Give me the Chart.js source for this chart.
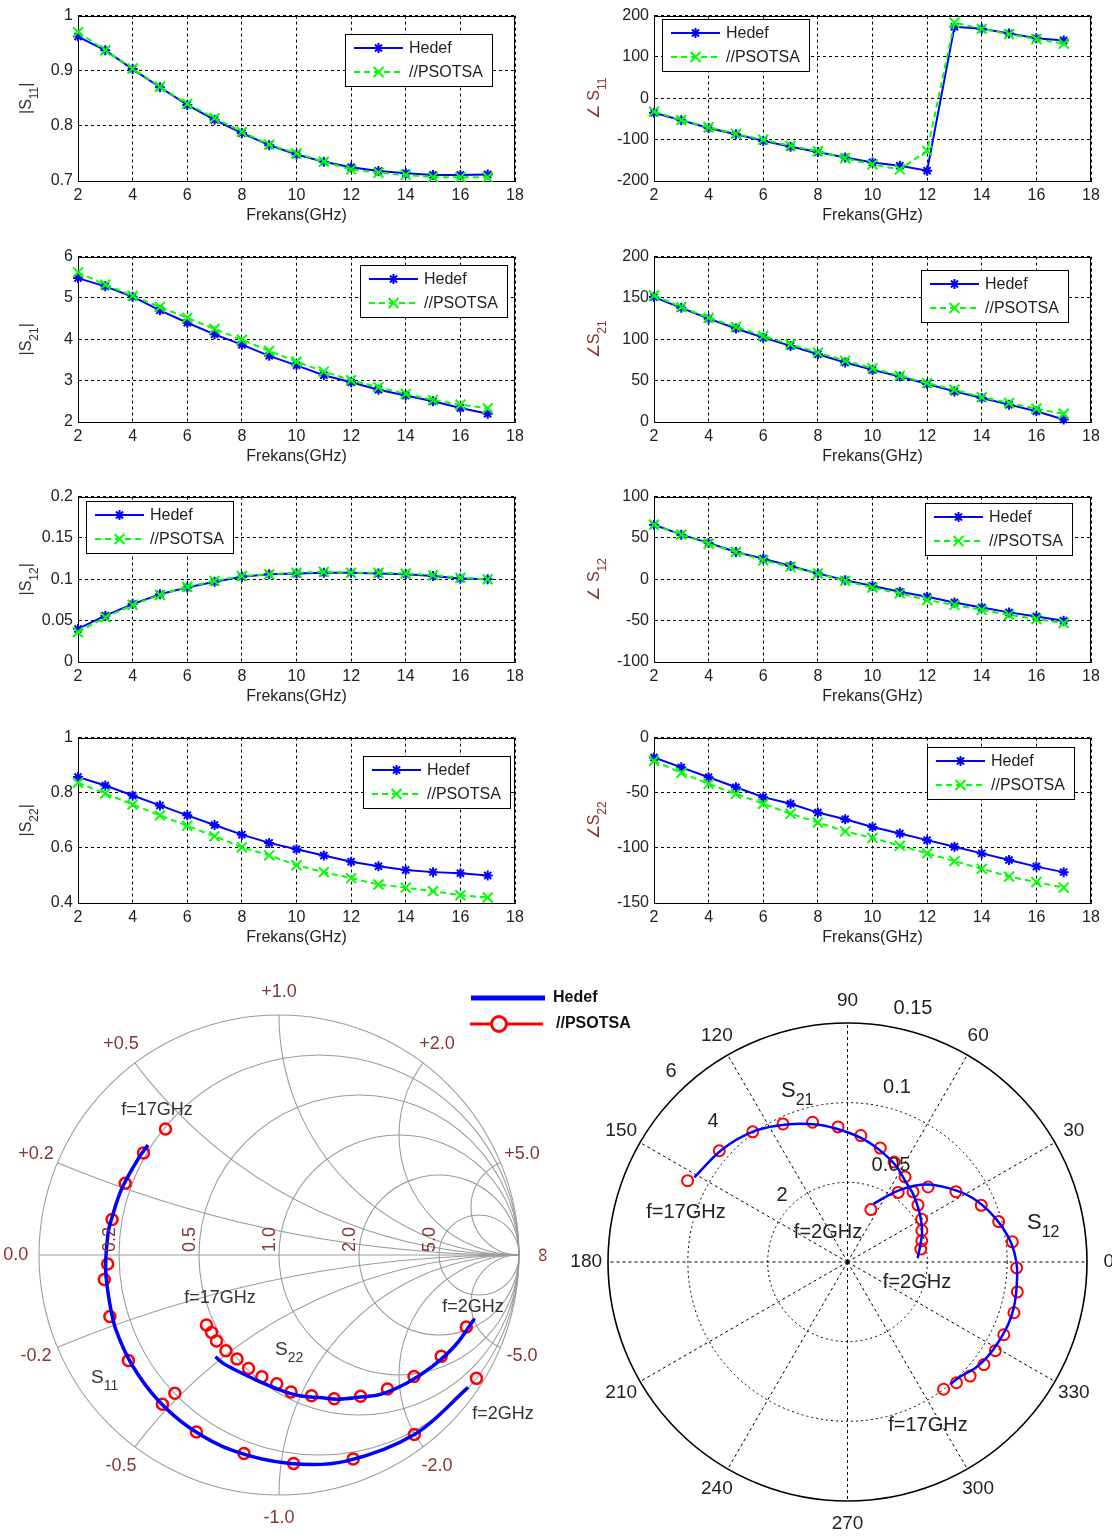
<!DOCTYPE html>
<html>
<head>
<meta charset="utf-8">
<title>S-parametre karşılaştırması</title>
<script src="https://cdn.jsdelivr.net/npm/chart.js@4.4.1/dist/chart.umd.min.js"></script>
<style>
  html, body { margin: 0; padding: 0; background: #fff; }
  #page { position: relative; width: 1112px; height: 1539px; overflow: hidden; background: #fff; }
  #page canvas { position: absolute; }
</style>
</head>
<body>
<div id="page"></div>
<script>
// ---- Frequency sweep and axis ticks ----
const freqGHz   = [2, 3, 4, 5, 6, 7, 8, 9, 10, 11, 12, 13, 14, 15, 16, 17];
const freqTicks = [2, 4, 6, 8, 10, 12, 14, 16, 18];
const seriesNames = ['Hedef', '//PSOTSA'];

// ---- S11 ----
const s11MagHedef = [0.962, 0.937, 0.903, 0.870, 0.838, 0.811, 0.787, 0.765, 0.748, 0.735, 0.725, 0.718, 0.714, 0.711, 0.711, 0.712];
const s11MagPso   = [0.970, 0.937, 0.904, 0.871, 0.840, 0.814, 0.789, 0.766, 0.750, 0.735, 0.721, 0.715, 0.711, 0.707, 0.707, 0.707];
const s11AngHedef = [-35, -53, -72, -87, -103, -117, -130, -143, -155, -163, -175, 173, 168, 157, 145, 140];
const s11AngPso   = [-32, -53, -70, -86, -100, -115, -128, -145, -160, -172, -127, 183, 168, 155, 143, 132];

// ---- S21 ----
const s21MagHedef = [5.48, 5.28, 5.03, 4.70, 4.40, 4.12, 3.87, 3.60, 3.37, 3.13, 2.96, 2.78, 2.64, 2.50, 2.34, 2.20];
const s21MagPso   = [5.62, 5.32, 5.05, 4.78, 4.52, 4.25, 3.99, 3.72, 3.46, 3.22, 3.01, 2.84, 2.68, 2.53, 2.42, 2.33];
const s21AngHedef = [151, 138, 125, 113, 102, 92, 82, 72, 63, 55, 46, 37, 29, 21, 13, 3];
const s21AngPso   = [153, 139, 126, 115, 104, 94, 84, 74, 65, 56, 47, 39, 30, 23, 16, 10];

// ---- S12 ----
const s12MagHedef = [0.040, 0.056, 0.070, 0.082, 0.090, 0.097, 0.103, 0.106, 0.107, 0.108, 0.108, 0.107, 0.106, 0.104, 0.101, 0.100];
const s12MagPso   = [0.036, 0.054, 0.069, 0.081, 0.091, 0.098, 0.104, 0.106, 0.108, 0.109, 0.108, 0.108, 0.107, 0.105, 0.102, 0.100];
const s12AngHedef = [66, 54, 44, 33, 25, 16, 7, -1, -8, -15, -21, -28, -34, -40, -45, -50];
const s12AngPso   = [66, 54, 43, 33, 23, 15, 7, -2, -10, -17, -25, -31, -37, -43, -48, -53];

// ---- S22 ----
const s22MagHedef = [0.857, 0.826, 0.790, 0.754, 0.718, 0.683, 0.648, 0.618, 0.595, 0.572, 0.550, 0.533, 0.520, 0.512, 0.508, 0.500];
const s22MagPso   = [0.836, 0.797, 0.757, 0.718, 0.680, 0.642, 0.602, 0.573, 0.537, 0.512, 0.490, 0.467, 0.456, 0.443, 0.428, 0.420];
const s22AngHedef = [-18, -27, -36, -45, -54, -60, -68, -74, -81, -87, -93, -99, -105, -111, -117, -122];
const s22AngPso   = [-21, -32, -42, -51, -60, -69, -77, -85, -91, -98, -105, -112, -119, -126, -131, -136];

// ---- Y-axis tick sets ----
const s11MagTicks = [0.7, 0.8, 0.9, 1];
const s11AngTicks = [-200, -100, 0, 100, 200];
const s21MagTicks = [2, 3, 4, 5, 6];
const s21AngTicks = [0, 50, 100, 150, 200];
const s12MagTicks = [0, 0.05, 0.1, 0.15, 0.2];
const s12AngTicks = [-100, -50, 0, 50, 100];
const s22MagTicks = [0.4, 0.6, 0.8, 1];
const s22AngTicks = [-150, -100, -50, 0];

// ---- Smith chart grid ----
const smithResistance = [0.2, 0.5, 1, 2, 5];
const smithResistanceLabels = ['0.2', '0.5', '1.0', '2.0', '5.0'];
const smithReactance = [0.2, 0.5, 1, 2, 5];
const smithReactanceLabels = ['0.2', '0.5', '1.0', '2.0', '5.0'];

// ---- Polar chart grid ----
const polarAngleTicks = [0, 30, 60, 90, 120, 150, 180, 210, 240, 270, 300, 330];
const polarRings = [1 / 3, 2 / 3, 1];
const s21RingLabels = ['2', '4', '6'];
const s12RingLabels = ['0.05', '0.1', '0.15'];
const s21FullScale = 7.5;
const s12FullScale = 0.15;

// =====================================================================
const FONT = "'Liberation Sans', Arial, Helvetica, sans-serif";
const BLUE = '#0000ff', GREEN = '#00ff00', RED = '#ff0000';
const TEXT = '#222222', BROWN = '#8a3232';
const page = document.getElementById('page');

function addCanvas(left, top, w, h) {
  const c = document.createElement('canvas');
  c.width = w; c.height = h;
  c.style.left = left + 'px'; c.style.top = top + 'px';
  c.style.width = w + 'px'; c.style.height = h + 'px';
  page.appendChild(c);
  return c;
}

// text with subscripts: parts = [[text, isSubscript], ...], y is the baseline
function drawSub(ctx, parts, x, y, size, align, color, subSize, subDrop) {
  subSize = subSize || Math.round(size * 0.75);
  subDrop = subDrop === undefined ? size * 0.42 : subDrop;
  let total = 0;
  const widths = parts.map(([t, sub]) => {
    ctx.font = `${sub ? subSize : size}px ${FONT}`;
    const w = ctx.measureText(t).width; total += w; return w;
  });
  let cx = align === 'center' ? x - total / 2 : (align === 'right' ? x - total : x);
  ctx.fillStyle = color; ctx.textAlign = 'left'; ctx.textBaseline = 'alphabetic';
  parts.forEach(([t, sub], i) => {
    ctx.font = `${sub ? subSize : size}px ${FONT}`;
    ctx.fillText(t, cx, y + (sub ? subDrop : 0));
    cx += widths[i];
  });
}

function drawMarker(ctx, style, x, y, r) {
  ctx.beginPath();
  if (style === 'circle') {
    ctx.arc(x, y, r, 0, Math.PI * 2);
  } else {
    const d = r * Math.SQRT1_2;
    ctx.moveTo(x - d, y - d); ctx.lineTo(x + d, y + d);
    ctx.moveTo(x + d, y - d); ctx.lineTo(x - d, y + d);
    if (style === 'star') { ctx.moveTo(x, y - r); ctx.lineTo(x, y + r); }
  }
  ctx.stroke();
}

function text(ctx, t, x, y, size, color, opts) {
  opts = opts || {};
  ctx.font = `${opts.bold ? 'bold ' : ''}${size}px ${FONT}`;
  ctx.fillStyle = color;
  ctx.textAlign = opts.align || 'center';
  ctx.textBaseline = 'middle';
  ctx.fillText(t, x, y);
}

// =====================================================================
// Eight frequency-response panels
const ROW_TOP = [11, 252, 492, 733];
const PLOT_H = 170;
const CANVAS_H = 240;
const COLS = [
  { x: 0,   w: 540, plotL: 78,  plotR: 515, titleX: 31 },
  { x: 560, w: 552, plotL: 654, plotR: 1091, titleX: 599 }
];

const panels = [
  { col: 0, row: 0, title: [['|S', 0], ['11', 1], ['|', 0]], color: '#333', hedef: s11MagHedef, pso: s11MagPso, ticks: s11MagTicks, legend: [345, 34] },
  { col: 1, row: 0, title: [['\u2220 S', 0], ['11', 1]], color: BROWN, hedef: s11AngHedef, pso: s11AngPso, ticks: s11AngTicks, legend: [662, 19] },
  { col: 0, row: 1, title: [['|S', 0], ['21', 1], ['|', 0]], color: '#333', hedef: s21MagHedef, pso: s21MagPso, ticks: s21MagTicks, legend: [360, 265] },
  { col: 1, row: 1, title: [['\u2220S', 0], ['21', 1]], color: BROWN, hedef: s21AngHedef, pso: s21AngPso, ticks: s21AngTicks, legend: [921, 270] },
  { col: 0, row: 2, title: [['|S', 0], ['12', 1], ['|', 0]], color: '#333', hedef: s12MagHedef, pso: s12MagPso, ticks: s12MagTicks, legend: [86, 501] },
  { col: 1, row: 2, title: [['\u2220 S', 0], ['12', 1]], color: BROWN, hedef: s12AngHedef, pso: s12AngPso, ticks: s12AngTicks, legend: [925, 503] },
  { col: 0, row: 3, title: [['|S', 0], ['22', 1], ['|', 0]], color: '#333', hedef: s22MagHedef, pso: s22MagPso, ticks: s22MagTicks, legend: [363, 756] },
  { col: 1, row: 3, title: [['\u2220S', 0], ['22', 1]], color: BROWN, hedef: s22AngHedef, pso: s22AngPso, ticks: s22AngTicks, legend: [927, 747] }
];

const LEGEND_ROWS = [
  { name: seriesNames[0], color: BLUE, dash: [], marker: 'star', r: 5 },
  { name: seriesNames[1], color: GREEN, dash: [6, 4], marker: 'crossRot', r: 7 }
];

const framePlugin = {
  id: 'frame',
  beforeDatasetsDraw(chart) {
    const a = chart.chartArea, c = chart.ctx;
    c.save();
    c.setLineDash([]);
    c.strokeStyle = '#000'; c.lineWidth = 1;
    c.strokeRect(Math.round(a.left) + 0.5, Math.round(a.top) + 0.5, Math.round(a.width) - 1, Math.round(a.height));
    c.restore();
  }
};

function panelDecor(p, col, canvasTop) {
  return {
    id: 'decor',
    afterDraw(chart) {
      const c = chart.ctx, a = chart.chartArea;
      c.save();
      // x-axis title
      text(c, 'Frekans(GHz)', (a.left + a.right) / 2, a.bottom + 35, 16, TEXT);
      // rotated y-axis title
      c.save();
      c.translate(col.titleX - col.x, (a.top + a.bottom) / 2);
      c.rotate(-Math.PI / 2);
      drawSub(c, p.title, 0, 0, 16, 'center', p.color, 12, 7);
      c.restore();
      // legend box
      const bx = p.legend[0] - col.x, by = p.legend[1] - canvasTop;
      const bw = 147, bh = 52;
      c.fillStyle = '#fff';
      c.fillRect(bx, by, bw, bh);
      c.strokeStyle = '#000'; c.lineWidth = 1; c.setLineDash([]);
      c.strokeRect(bx + 0.5, by + 0.5, bw, bh);
      LEGEND_ROWS.forEach((row, i) => {
        const y = by + 14 + i * 24;
        c.strokeStyle = row.color; c.lineWidth = 2;
        c.setLineDash(row.dash);
        c.beginPath(); c.moveTo(bx + 9, y); c.lineTo(bx + 58, y); c.stroke();
        c.setLineDash([]);
        drawMarker(c, row.marker, bx + 33.5, y, row.r);
        text(c, row.name, bx + 64, y + 1, 16, TEXT, { align: 'left' });
      });
      c.restore();
    }
  };
}

const gridStyle = { color: '#000', lineWidth: 1, drawTicks: false };
const borderStyle = { display: true, color: '#000', dash: [3, 3] };
const tickFont = { family: FONT, size: 16 };

panels.forEach(p => {
  const col = COLS[p.col];
  const canvasTop = ROW_TOP[p.row] - 10;
  const cv = addCanvas(col.x, canvasTop, col.w, CANVAS_H);
  const ticks = p.ticks;
  new Chart(cv, {
    type: 'line',
    data: {
      datasets: [
        {
          label: seriesNames[0],
          data: freqGHz.map((f, i) => ({ x: f, y: p.hedef[i] })),
          borderColor: BLUE, backgroundColor: BLUE, borderWidth: 2,
          pointStyle: 'star', pointRadius: 5, pointBorderWidth: 2, pointBorderColor: BLUE,
          tension: 0, clip: false, order: 1
        },
        {
          label: seriesNames[1],
          data: freqGHz.map((f, i) => ({ x: f, y: p.pso[i] })),
          borderColor: GREEN, backgroundColor: GREEN, borderWidth: 2, borderDash: [6, 4],
          pointStyle: 'crossRot', pointRadius: 7, pointBorderWidth: 2, pointBorderColor: GREEN,
          tension: 0, clip: false, order: 0
        }
      ]
    },
    options: {
      responsive: false, animation: false, devicePixelRatio: 1,
      layout: { padding: { left: 0, top: 10, right: col.w - (col.plotR - col.x), bottom: 0 } },
      plugins: { legend: { display: false }, tooltip: { enabled: false } },
      scales: {
        x: {
          type: 'linear', min: freqTicks[0], max: freqTicks[freqTicks.length - 1],
          afterBuildTicks: s => { s.ticks = freqTicks.map(v => ({ value: v })); },
          afterFit: s => { s.height = CANVAS_H - 10 - PLOT_H; },
          grid: gridStyle, border: borderStyle,
          ticks: { color: TEXT, font: tickFont, padding: 5, maxRotation: 0, autoSkip: false, callback: v => String(v) }
        },
        y: {
          type: 'linear', min: ticks[0], max: ticks[ticks.length - 1],
          afterBuildTicks: s => { s.ticks = ticks.map(v => ({ value: v })); },
          afterFit: s => { s.width = col.plotL - col.x; },
          grid: gridStyle, border: borderStyle,
          ticks: { color: TEXT, font: tickFont, padding: 5, autoSkip: false, callback: v => String(v) }
        }
      }
    },
    plugins: [framePlugin, panelDecor(p, col, canvasTop)]
  });
});

// =====================================================================
// Smith chart: reflection coefficients S11 and S22
function toGamma(mag, angDeg) {
  return mag.map((m, i) => {
    const t = angDeg[i] * Math.PI / 180;
    return { x: m * Math.cos(t), y: m * Math.sin(t) };
  });
}

const SMITH_TOP = 975;
const smithCanvas = addCanvas(0, SMITH_TOP, 640, 564);

const smithGrid = {
  id: 'smithGrid',
  beforeDatasetsDraw(chart) {
    const c = chart.ctx, sx = chart.scales.x, sy = chart.scales.y;
    const cx = sx.getPixelForValue(0), cy = sy.getPixelForValue(0);
    const R = sx.getPixelForValue(1) - cx;
    c.save();
    c.strokeStyle = '#9c9c9c'; c.lineWidth = 1.1;
    c.beginPath(); c.arc(cx, cy, R, 0, Math.PI * 2); c.stroke();
    c.beginPath(); c.moveTo(cx - R, cy); c.lineTo(cx + R, cy); c.stroke();
    smithResistance.forEach(r => {
      c.beginPath();
      c.arc(cx + R * r / (1 + r), cy, R / (1 + r), 0, Math.PI * 2);
      c.stroke();
    });
    c.beginPath(); c.arc(cx, cy, R, 0, Math.PI * 2); c.clip();
    smithReactance.forEach(x => {
      [1, -1].forEach(sgn => {
        c.beginPath();
        c.arc(cx + R, cy - sgn * R / x, R / x, 0, Math.PI * 2);
        c.stroke();
      });
    });
    c.restore();
  },
  afterDraw(chart) {
    const c = chart.ctx, sx = chart.scales.x, sy = chart.scales.y;
    const cx = sx.getPixelForValue(0), cy = sy.getPixelForValue(0);
    const R = sx.getPixelForValue(1) - cx;
    const LR = 1.097 * R;
    c.save();
    // reactance labels around the rim
    smithReactance.forEach((x, i) => {
      const den = x * x + 1;
      const gx = (x * x - 1) / den, gy = 2 * x / den;
      text(c, '+' + smithReactanceLabels[i], cx + gx * LR, cy - gy * LR, 18, BROWN);
      text(c, '-' + smithReactanceLabels[i], cx + gx * LR, cy + gy * LR, 18, BROWN);
    });
    text(c, '0.0', cx - LR, cy, 18, BROWN);
    c.save();
    c.translate(cx + LR, cy); c.rotate(Math.PI / 2);
    text(c, '\u221E', 0, 0, 20, BROWN);
    c.restore();
    // resistance labels along the real axis
    smithResistance.forEach((r, i) => {
      const edge = cx + R * (r - 1) / (r + 1);
      c.save();
      c.translate(edge - 4, cy - 3); c.rotate(-Math.PI / 2);
      c.font = `18px ${FONT}`; c.fillStyle = BROWN;
      c.textAlign = 'left'; c.textBaseline = 'alphabetic';
      c.fillText(smithResistanceLabels[i], 0, 0);
      c.restore();
    });
    // trace annotations
    const T = SMITH_TOP;
    text(c, 'f=17GHz', 157, 1110 - T, 18, '#333');
    text(c, 'f=17GHz', 220, 1298 - T, 18, '#333');
    text(c, 'f=2GHz', 473, 1307 - T, 18, '#333');
    text(c, 'f=2GHz', 503, 1414 - T, 18, '#333');
    drawSub(c, [['S', 0], ['22', 1]], 275, 1355 - T, 19, 'left', '#333', 14, 7);
    drawSub(c, [['S', 0], ['11', 1]], 91, 1383 - T, 19, 'left', '#333', 14, 7);
    // shared legend
    c.lineCap = 'butt';
    c.strokeStyle = BLUE; c.lineWidth = 5;
    c.beginPath(); c.moveTo(471, 998 - T); c.lineTo(545, 998 - T); c.stroke();
    c.strokeStyle = RED; c.lineWidth = 3;
    c.beginPath(); c.moveTo(470, 1024 - T); c.lineTo(543, 1024 - T); c.stroke();
    c.fillStyle = '#fff';
    c.beginPath(); c.arc(499, 1024 - T, 7.5, 0, Math.PI * 2); c.fill(); c.stroke();
    text(c, seriesNames[0], 553, 998 - T, 16, '#111', { align: 'left', bold: true });
    text(c, seriesNames[1], 556, 1024 - T, 16, '#111', { align: 'left', bold: true });
    c.restore();
  }
};

const hedefLine = { showLine: true, borderColor: BLUE, borderWidth: 3.5, pointRadius: 0, tension: 0.35, clip: false, order: 0 };
const psoMarks = { showLine: false, pointStyle: 'circle', pointRadius: 5.5, pointBorderWidth: 2.5, pointBorderColor: RED, pointBackgroundColor: 'rgba(255,255,255,0)', borderColor: RED, clip: false, order: 1 };

new Chart(smithCanvas, {
  type: 'scatter',
  data: {
    datasets: [
      Object.assign({ label: 'S11 ' + seriesNames[0], data: toGamma(s11MagHedef, s11AngHedef) }, hedefLine),
      Object.assign({ label: 'S22 ' + seriesNames[0], data: toGamma(s22MagHedef, s22AngHedef) }, hedefLine),
      Object.assign({ label: 'S11 ' + seriesNames[1], data: toGamma(s11MagPso, s11AngPso) }, psoMarks),
      Object.assign({ label: 'S22 ' + seriesNames[1], data: toGamma(s22MagPso, s22AngPso) }, psoMarks)
    ]
  },
  options: {
    responsive: false, animation: false, devicePixelRatio: 1,
    layout: { padding: { left: 39, right: 121, top: 40, bottom: 44 } },
    plugins: { legend: { display: false }, tooltip: { enabled: false } },
    scales: {
      x: { type: 'linear', min: -1, max: 1, display: false },
      y: { type: 'linear', min: -1, max: 1, display: false }
    }
  },
  plugins: [smithGrid]
});

// =====================================================================
// Polar chart: transmission coefficients S21 and S12
function toPolar(mag, angDeg, full) {
  return mag.map((m, i) => {
    const r = m / full, t = angDeg[i] * Math.PI / 180;
    return { x: r * Math.cos(t), y: r * Math.sin(t) };
  });
}

const POLAR_LEFT = 560, POLAR_TOP = 975;
const polarCanvas = addCanvas(POLAR_LEFT, POLAR_TOP, 552, 564);

const polarGrid = {
  id: 'polarGrid',
  beforeDatasetsDraw(chart) {
    const c = chart.ctx, sx = chart.scales.x, sy = chart.scales.y;
    const cx = sx.getPixelForValue(0), cy = sy.getPixelForValue(0);
    const Rx = sx.getPixelForValue(1) - cx, Ry = cy - sy.getPixelForValue(1);
    c.save();
    c.strokeStyle = '#000'; c.lineWidth = 1;
    c.setLineDash([3, 3]);
    polarAngleTicks.forEach(a => {
      const t = a * Math.PI / 180;
      c.beginPath(); c.moveTo(cx, cy);
      c.lineTo(cx + Rx * Math.cos(t), cy - Ry * Math.sin(t)); c.stroke();
    });
    c.setLineDash([2, 3]);
    polarRings.slice(0, -1).forEach(f => {
      c.beginPath(); c.ellipse(cx, cy, Rx * f, Ry * f, 0, 0, Math.PI * 2); c.stroke();
    });
    c.setLineDash([]);
    c.lineWidth = 1.6;
    c.beginPath(); c.ellipse(cx, cy, Rx, Ry, 0, 0, Math.PI * 2); c.stroke();
    c.restore();
  },
  afterDraw(chart) {
    const c = chart.ctx, sx = chart.scales.x, sy = chart.scales.y;
    const cx = sx.getPixelForValue(0), cy = sy.getPixelForValue(0);
    const Rx = sx.getPixelForValue(1) - cx, Ry = cy - sy.getPixelForValue(1);
    const L = POLAR_LEFT, T = POLAR_TOP;
    c.save();
    polarAngleTicks.forEach(a => {
      const t = a * Math.PI / 180;
      text(c, String(a), cx + 1.091 * Rx * Math.cos(t), cy - 1.095 * Ry * Math.sin(t), 19, TEXT);
    });
    // ring magnitudes for each trace
    const s21Pos = [[782, 1195], [713, 1121], [671, 1071]];
    const s12Pos = [[891, 1165], [897, 1087], [913, 1008]];
    s21RingLabels.forEach((t, i) => text(c, t, s21Pos[i][0] - L, s21Pos[i][1] - T, 20, TEXT));
    s12RingLabels.forEach((t, i) => text(c, t, s12Pos[i][0] - L, s12Pos[i][1] - T, 20, TEXT));
    // trace annotations
    drawSub(c, [['S', 0], ['21', 1]], 781 - L, 1097 - T, 22, 'left', TEXT, 16, 8);
    drawSub(c, [['S', 0], ['12', 1]], 1027 - L, 1229 - T, 22, 'left', TEXT, 16, 8);
    text(c, 'f=17GHz', 686 - L, 1212 - T, 20, TEXT);
    text(c, 'f=2GHz', 828 - L, 1232 - T, 20, TEXT);
    text(c, 'f=2GHz', 917 - L, 1282 - T, 20, TEXT);
    text(c, 'f=17GHz', 928 - L, 1425 - T, 20, TEXT);
    c.restore();
  }
};

const polarHedef = { showLine: true, borderColor: BLUE, borderWidth: 2.5, pointRadius: 0, tension: 0.35, clip: false, order: 0 };
const polarPso = { showLine: false, pointStyle: 'circle', pointRadius: 5.5, pointBorderWidth: 2, pointBorderColor: RED, pointBackgroundColor: 'rgba(255,255,255,0)', borderColor: RED, clip: false, order: 1 };

new Chart(polarCanvas, {
  type: 'scatter',
  data: {
    datasets: [
      Object.assign({ label: 'S21 ' + seriesNames[0], data: toPolar(s21MagHedef, s21AngHedef, s21FullScale) }, polarHedef),
      Object.assign({ label: 'S12 ' + seriesNames[0], data: toPolar(s12MagHedef, s12AngHedef, s12FullScale) }, polarHedef),
      Object.assign({ label: 'S21 ' + seriesNames[1], data: toPolar(s21MagPso, s21AngPso, s21FullScale) }, polarPso),
      Object.assign({ label: 'S12 ' + seriesNames[1], data: toPolar(s12MagPso, s12AngPso, s12FullScale) }, polarPso)
    ]
  },
  options: {
    responsive: false, animation: false, devicePixelRatio: 1,
    layout: { padding: { left: 48, right: 25, top: 48, bottom: 38 } },
    plugins: { legend: { display: false }, tooltip: { enabled: false } },
    scales: {
      x: { type: 'linear', min: -1, max: 1, display: false },
      y: { type: 'linear', min: -1, max: 1, display: false }
    }
  },
  plugins: [polarGrid]
});
</script>
</body>
</html>
